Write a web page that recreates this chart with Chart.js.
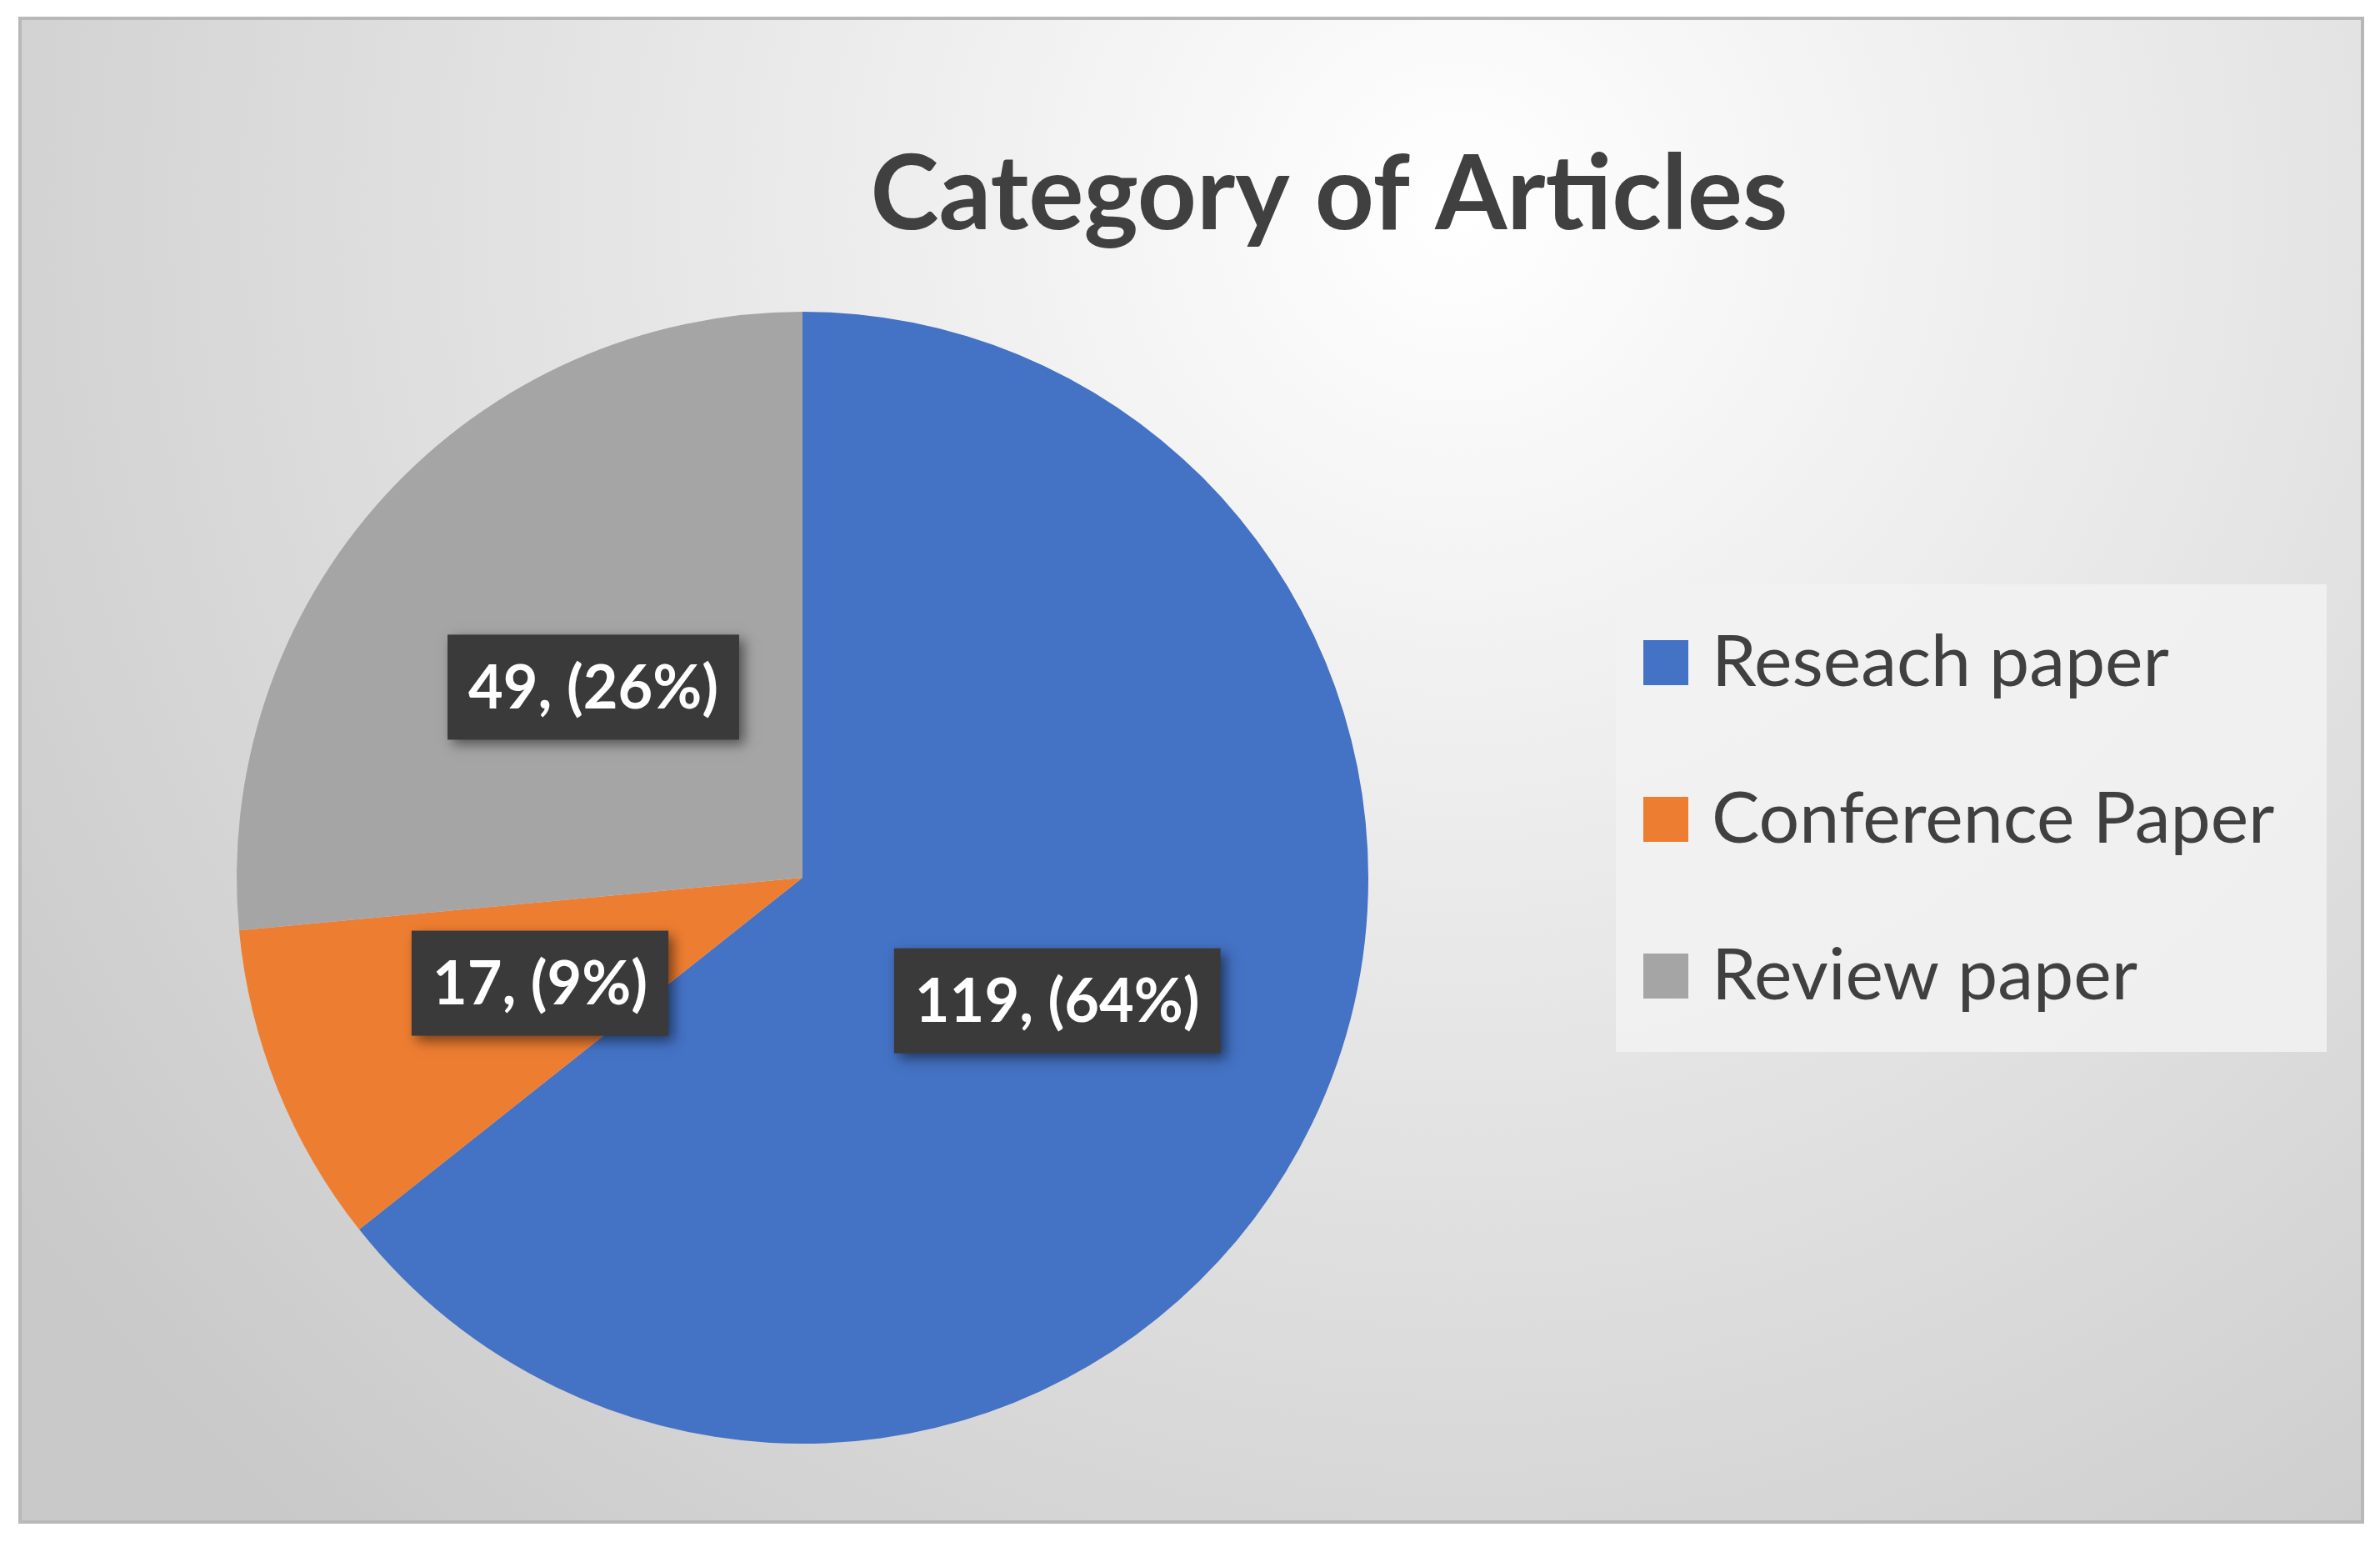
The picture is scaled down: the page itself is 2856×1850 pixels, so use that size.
<!DOCTYPE html>
<html><head><meta charset="utf-8">
<script src="https://cdn.jsdelivr.net/npm/chart.js@4/dist/chart.umd.min.js"></script>
<style>html,body{margin:0;padding:0;background:#fff;overflow:hidden}</style>
</head><body>
<canvas id="c" width="2856" height="1850"></canvas>
<script>
const categories = ["Reseach paper", "Conference Paper", "Review paper"];
const counts = [119, 17, 49];
const colors = ["#4472C4", "#ED7D31", "#A5A5A5"];
const chartTitle = "Category of Articles";

const decor = {
  id: 'decor',
  beforeDraw(chart) {
    const ctx = chart.ctx;
    ctx.save();
    ctx.fillStyle = '#fff';
    ctx.fillRect(0, 0, 2856, 1850);
    const g = ctx.createRadialGradient(1750, 250, 0, 1750, 250, 2100);
    g.addColorStop(0, '#ffffff');
    g.addColorStop(1, '#c9c9c9');
    ctx.fillStyle = g;
    ctx.fillRect(24, 22, 2811, 1804);
    ctx.strokeStyle = '#b8b8b8';
    ctx.lineWidth = 4;
    ctx.strokeRect(24, 22, 2811, 1804);
    // title
    ctx.fillStyle = '#404040';
    ctx.font = 'bold 124px Lato';
    ctx.textAlign = 'center';
    ctx.textBaseline = 'middle';
    ctx.fillText(chartTitle, 1595, 235);
    // legend box
    ctx.fillStyle = 'rgba(242,242,242,0.85)';
    ctx.fillRect(1939, 701, 853, 561);
    ctx.textAlign = 'left';
    ctx.font = '86px Lato';
    categories.forEach((c, i) => {
      const y = 795 + i * 188;
      ctx.fillStyle = chart.data.datasets[0].backgroundColor[i];
      ctx.fillRect(1972, y - 27, 54, 54);
      ctx.fillStyle = '#404040';
      ctx.fillText(c, 2054, y);
    });
    ctx.restore();
  },
  afterDatasetsDraw(chart) {
    const ctx = chart.ctx;
    const meta = chart.getDatasetMeta(0);
    const total = counts.reduce((a, b) => a + b, 0);
    ctx.save();
    ctx.font = 'bold 72px Lato';
    ctx.textAlign = 'center';
    ctx.textBaseline = 'middle';
    meta.data.forEach((arc, i) => {
      const p = arc.getProps(['x', 'y', 'startAngle', 'endAngle', 'outerRadius'], true);
      const mid = (p.startAngle + p.endAngle) / 2;
      const r = p.outerRadius * 0.5;
      const x = p.x + Math.cos(mid) * r, y = p.y + Math.sin(mid) * r;
      const txt = counts[i] + ', (' + Math.round(counts[i] / total * 100) + '%)';
      const w = ctx.measureText(txt).width + 50, h = 126;
      ctx.shadowColor = 'rgba(0,0,0,0.5)';
      ctx.shadowBlur = 14; ctx.shadowOffsetX = 6; ctx.shadowOffsetY = 6;
      ctx.fillStyle = '#3a3a3a';
      ctx.fillRect(x - w / 2, y - h / 2, w, h);
      ctx.shadowColor = 'transparent';
      ctx.fillStyle = '#ffffff';
      ctx.fillText(txt, x, y + 2);
    });
    ctx.restore();
  }
};

new Chart(document.getElementById('c'), {
  type: 'pie',
  data: { labels: categories, datasets: [{ data: counts, backgroundColor: colors, borderWidth: 0 }] },
  options: {
    responsive: false, devicePixelRatio: 1, animation: false,
    layout: { padding: { left: 284, right: 1214, top: 374, bottom: 118 } },
    plugins: { legend: { display: false }, tooltip: { enabled: false }, title: { display: false } }
  },
  plugins: [decor]
});
</script>
</body></html>
